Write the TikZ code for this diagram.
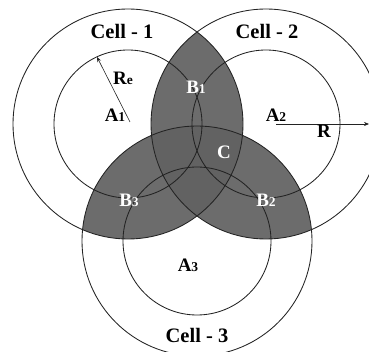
\documentclass[tikz,border=0pt]{standalone}
\usepackage{fontspec}
\setmainfont{Liberation Serif}
\usetikzlibrary{arrows.meta}
\definecolor{lensgray}{RGB}{108,108,108}
\definecolor{coregray}{RGB}{98,98,98}
\definecolor{linegray}{RGB}{35,35,35}
\newcommand{\lbl}[2]{{\fontsize{19}{22}\selectfont\bfseries #1}{\fontsize{13.5}{16}\selectfont\bfseries #2}}
\tikzset{
  cellline/.style={draw=linegray,line width=0.85pt},
  celltxt/.style={anchor=base,inner sep=0pt,font=\fontsize{20.5}{24}\selectfont\bfseries},
  blacklbl/.style={anchor=base,inner sep=0pt,text=black},
  whitelbl/.style={anchor=base,inner sep=0pt,text=white},
  radarrow/.style={draw=linegray,line width=0.6pt,-{Stealth[length=5pt,width=4pt]}}
}
\begin{document}
\begin{tikzpicture}[x=1pt,y=-1pt]
\useasboundingbox (0,0) rectangle (369,352);
\coordinate (O1) at (128,124);
\coordinate (O2) at (266,124);
\coordinate (O3) at (197,241);
% shaded lenses
\begin{scope}
  \clip (O1) circle[radius=115pt];
  \fill[lensgray] (O2) circle[radius=115pt];
  \fill[lensgray] (O3) circle[radius=115pt];
\end{scope}
\begin{scope}
  \clip (O2) circle[radius=115pt];
  \fill[lensgray] (O3) circle[radius=115pt];
\end{scope}
\begin{scope}
  \clip (O1) circle[radius=115pt];
  \clip (O2) circle[radius=115pt];
  \fill[coregray] (O3) circle[radius=115pt];
\end{scope}
% circles
\foreach \c in {O1,O2,O3}{
  \draw[cellline] (\c) circle[radius=115pt];
  \draw[cellline] (\c) circle[radius=74pt];
}
% radius arrows
\coordinate (ReS) at (130,122);
\coordinate (ReE) at (97,57);
\coordinate (RS) at (276,124);
\coordinate (RE) at (369,124);
\draw[radarrow] (ReS) -- (ReE);
\draw[radarrow] (RS) -- (RE);
% labels
\node[celltxt] (cell1) at (122,39) {Cell - 1};
\node[celltxt] (cell2) at (267,39) {Cell - 2};
\node[celltxt] (cell3) at (197,342) {Cell - 3};
\node[blacklbl] (re) at (123,85) {\lbl{R}{e}};
\node[blacklbl] (a1) at (115,122) {\lbl{A}{1}};
\node[blacklbl] (a2) at (276,122) {\lbl{A}{2}};
\node[blacklbl] (a3) at (188,272) {\lbl{A}{3}};
\node[blacklbl] (r) at (324,138) {\lbl{R}{}};
\node[whitelbl] (b1) at (196,94) {\lbl{B}{1}};
\node[whitelbl] (b2) at (266,207) {\lbl{B}{2}};
\node[whitelbl] (b3) at (129,207) {\lbl{B}{3}};
\node[whitelbl] (c) at (224,159) {\lbl{C}{}};
\end{tikzpicture}
\end{document}
